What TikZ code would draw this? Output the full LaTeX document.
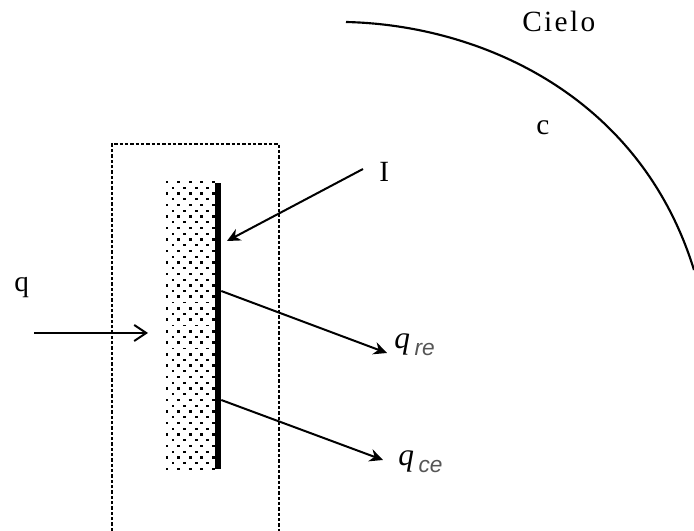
\documentclass[tikz,border=0pt]{standalone}
\usepackage{fontspec}
\setmainfont{Liberation Serif}
\newfontfamily\subfont{Liberation Sans}
\usetikzlibrary{arrows.meta}
\definecolor{subgrey}{HTML}{555555}
\tikzset{
  lbl/.style={font=\fontsize{22}{26}\selectfont, inner sep=0pt, anchor=base west},
  flux/.style={-{Stealth[length=10pt,width=9.5pt]}, line width=1.5pt},
  fluxopen/.style={-{Straight Barb[length=9pt,width=12pt]}, line width=1.5pt},
  frame/.style={dash pattern=on 2.6pt off 1.4pt, line width=1.2pt},
  wall/.style={fill=black, inner sep=0pt, minimum width=4.5pt, minimum height=214.5pt},
  dot/.style={fill=black, inner sep=0pt, minimum size=2pt},
  dotb/.style={fill=black, inner sep=0pt, minimum width=2pt, minimum height=1.4pt},
}
\newcommand{\subq}[1]{{\fontsize{23.5}{26}\selectfont\textit{q}}\hspace{3.5pt}{\subfont\fontsize{17}{17}\selectfont\itshape\color{subgrey}\raisebox{-5pt}{#1}}}
\begin{document}
\begin{tikzpicture}[x=0.75pt,y=-0.75pt]
  \useasboundingbox (0,0) rectangle (694,531);
  % dashed box, open at the bottom
  \draw[frame] (112,531) -- (112,144) -- (279,144) -- (279,531);
  % dotted layer
  \foreach \r in {0,2,...,50}{
    \foreach \c in {0,...,4}{
      \node[dot] at (167+\c*11.6,182+\r*5.74) {};
    }
  }
  \foreach \r in {1,3,...,49}{
    \foreach \c in {0,...,3}{
      \node[dotb] at (173+\c*11.6,182+\r*5.74) {};
    }
  }
  \node[wall] (plate) at (218,326) {};
  % labels
  \node[lbl] (cielo) at (522,32) {\addfontfeature{LetterSpace=8}Cielo};
  \node[lbl] (cc) at (536,135) {c};
  \node[lbl] (ii) at (379,182) {I};
  \node[lbl] (qq) at (14,292) {q};
  \node[lbl] (qre) at (394,349) {\subq{re}};
  \node[lbl] (qce) at (398,466) {\subq{ce}};
  % free ends
  \coordinate (iend) at (363,169);
  \coordinate (itip) at (227,241);
  \coordinate (qstart) at (34,333);
  \coordinate (qtip) at (148,333);
  \coordinate (retip) at (387,353);
  \coordinate (cetip) at (383,460);
  \coordinate (arcstart) at (346,22);
  \coordinate (arcend) at (694,270);
  % arrows
  \draw[flux] (iend) -- (itip);
  \draw[fluxopen] (qstart) -- (qtip);
  \draw[flux] (plate.east |- 0,291) -- (retip);
  \draw[flux] (plate.east |- 0,400) -- (cetip);
  % sky
  \draw[line width=1.6pt] (arcstart) .. controls (480,25) and (640,95) .. (arcend);
\end{tikzpicture}
\end{document}
